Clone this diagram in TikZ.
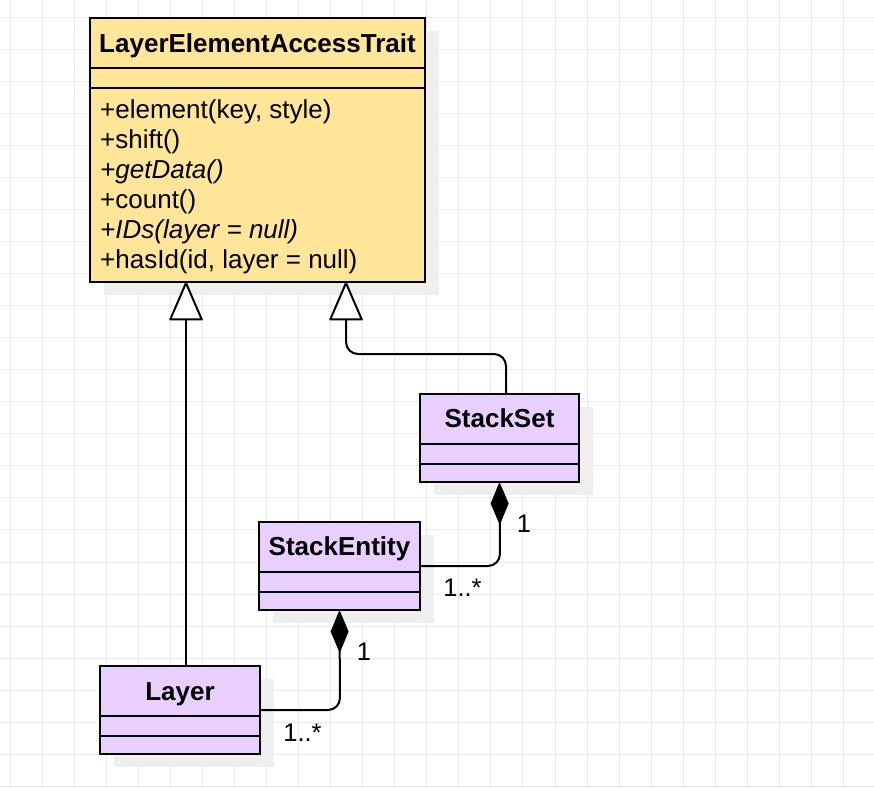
\documentclass[tikz,border=0pt]{standalone}
\usepackage{fontspec}
\setmainfont{Liberation Sans}
\usetikzlibrary{arrows.meta,calc}
\definecolor{yel}{HTML}{FFE599}
\definecolor{pur}{HTML}{E9CFFF}
\definecolor{shad}{HTML}{EFEFEF}
\definecolor{gridc}{HTML}{EAEAEA}
\tikzset{
  box/.style={draw=black, line width=2pt, anchor=north west, inner sep=0pt, outer sep=0pt},
  divider/.style={draw=black, line width=2pt},
  shadowbox/.style={fill=shad},
  titletext/.style={anchor=base, font=\fontsize{26}{30}\selectfont\bfseries, inner sep=0pt},
  methtext/.style={anchor=base west, font=\fontsize{26}{30}\selectfont, inner sep=0pt},
  multtext/.style={anchor=center, font=\fontsize{25.5}{28}\selectfont, inner sep=0pt},
  gen/.style={draw=black, line width=2pt, rounded corners=12pt, -{Triangle[open, length=40pt, width=34pt, fill=white, round]}},
  comp/.style={draw=black, line width=2pt, rounded corners=12pt, -{Diamond[length=43pt, width=18pt, fill=black]}},
}
\begin{document}
\begin{tikzpicture}[x=1pt,y=-1pt]
\useasboundingbox (0,0) rectangle (874,788);
% grid
\foreach \i in {0,...,26} {\draw[gridc, line width=1pt] ({10+\i*32.06},0) -- ({10+\i*32.06},788);}
\foreach \j in {0,...,24} {\draw[gridc, line width=1pt] (0,{17+\j*32.06}) -- (874,{17+\j*32.06});}
% shadows
\fill[shadowbox] (104,31) rectangle (439,295);
\fill[shadowbox] (434,407) rectangle (593,495);
\fill[shadowbox] (273,535) rectangle (434,623);
\fill[shadowbox] (114,679) rectangle (274,767);
% trait box
\node[box, fill=yel, minimum width=335pt, minimum height=264pt] (trait) at (90,18) {};
\draw[divider] ([yshift=-50pt]trait.north west) -- ([yshift=-50pt]trait.north east);
\draw[divider] ([yshift=-70pt]trait.north west) -- ([yshift=-70pt]trait.north east);
\node[titletext] (traitname) at (257.5,52) {LayerElementAccessTrait};
\node[methtext] (m1) at (100,118) {+element(key, style)};
\node[methtext] (m2) at (100,148) {+shift()};
\node[methtext] (m3) at (100,178) {\itshape +getData()};
\node[methtext] (m4) at (100,208) {+count()};
\node[methtext] (m5) at (100,238) {\itshape +IDs(layer = null)};
\node[methtext] (m6) at (100,268) {+hasId(id, layer = null)};
% StackSet
\node[box, fill=pur, minimum width=159pt, minimum height=88pt] (stackset) at (420,394) {};
\draw[divider] ([yshift=-50pt]stackset.north west) -- ([yshift=-50pt]stackset.north east);
\draw[divider] ([yshift=-70pt]stackset.north west) -- ([yshift=-70pt]stackset.north east);
\node[titletext] (stacksetname) at (499.5,427) {StackSet};
% StackEntity
\node[box, fill=pur, minimum width=161pt, minimum height=88pt] (stackentity) at (259,522) {};
\draw[divider] ([yshift=-50pt]stackentity.north west) -- ([yshift=-50pt]stackentity.north east);
\draw[divider] ([yshift=-70pt]stackentity.north west) -- ([yshift=-70pt]stackentity.north east);
\node[titletext] (stackentityname) at (339.5,555) {StackEntity};
% Layer
\node[box, fill=pur, minimum width=160pt, minimum height=88pt] (layer) at (100,666) {};
\draw[divider] ([yshift=-50pt]layer.north west) -- ([yshift=-50pt]layer.north east);
\draw[divider] ([yshift=-70pt]layer.north west) -- ([yshift=-70pt]layer.north east);
\node[titletext] (layername) at (180,700) {Layer};
% generalizations
\draw[gen] (layer.north -| 186,0) -- (trait.south -| 186,0);
\draw[gen] (stackset.north -| 506,0) -- (506,354) -- (346,354) -- (trait.south -| 346,0);
% compositions
\draw[comp] (stackentity.east) -- (500,566) -- (stackset.south);
\draw[comp] (layer.east) -- (340,710) -- (stackentity.south);
% multiplicities
\node[multtext] (l1) at (524,524) {1};
\node[multtext] (l2) at (462.5,588) {1..*};
\node[multtext] (l3) at (364,652) {1};
\node[multtext] (l4) at (302.5,733) {1..*};
\end{tikzpicture}
\end{document}
